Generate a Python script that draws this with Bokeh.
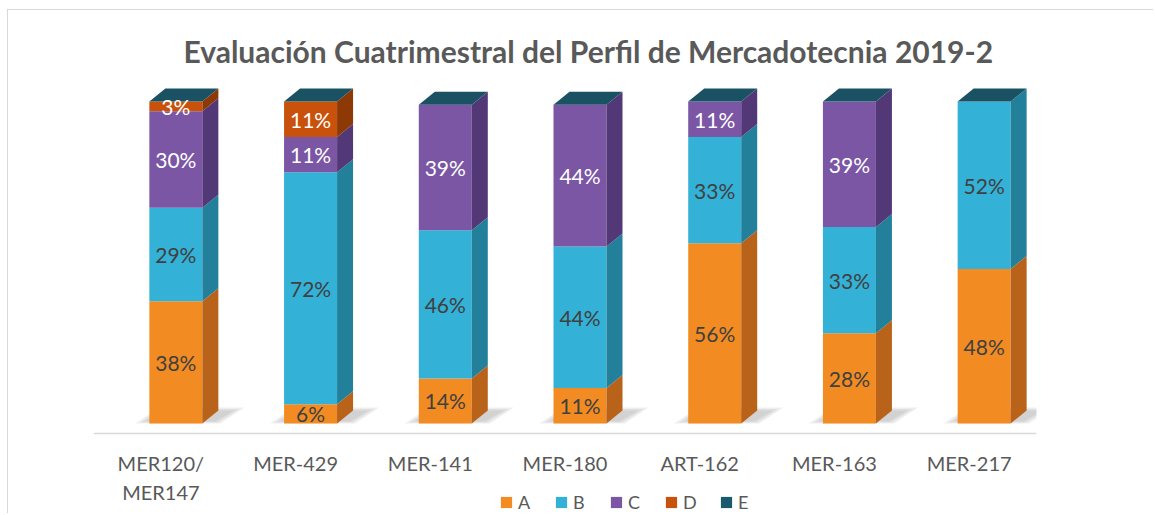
import numpy as np
from bokeh.plotting import figure
from bokeh.models import Range1d, Legend, LegendItem, ColumnDataSource, Span
from bokeh.core.properties import value
from bokeh.embed import file_html
from bokeh.resources import INLINE

# ---------------- data ----------------
categories = ["MER120/MER147", "MER-429", "MER-141", "MER-180", "ART-162", "MER-163", "MER-217"]
tick_labels = ["MER120/\nMER147", "MER-429", "MER-141", "MER-180", "ART-162", "MER-163", "MER-217"]
series_names = ["A", "B", "C", "D", "E"]
A = [38, 6, 14, 11, 56, 28, 48]
B = [29, 72, 46, 44, 33, 33, 52]
C = [30, 11, 39, 44, 11, 39, 0]
D = [3, 11, 0, 0, 0, 0, 0]
E = [0, 0, 0, 0, 0, 0, 0]
series_values = [A, B, C, D, E]

front_colors = ["#F28C22", "#33B1D6", "#7A56A4", "#C8520B", "#1A5A6E"]
side_colors = ["#B9631A", "#22809B", "#533877", "#8C3906", "#123F4E"]
label_colors = ["#404040", "#404040", "#FFFFFF", "#FFFFFF", "#FFFFFF"]
top_color = "#1A5263"
FONT = "Lato"

# ---------------- geometry (pixels -> data units) ----------------
XU = 943 / 7.0      # px per category slot
YU = 3.22           # px per percent
dx = 15.0 / XU      # 3D perspective shift of front face
w = 53.0 / XU       # front face width
ox = 16.0 / XU      # depth x
oy = 13.0 / YU      # depth y
floor_y = -10 / YU  # category axis line (below the bars' base)
label_top = -27 / YU

n = len(categories)
slot = np.arange(n) + 0.5
x0 = slot + dx - w / 2
x1 = slot + dx + w / 2

p = figure(width=1146, height=504, output_backend="svg", toolbar_location=None,
           x_range=Range1d(0, n), y_range=Range1d(-91 / YU, 343 / YU),
           min_border_left=85, min_border_right=118, min_border_top=70, min_border_bottom=0,
           background_fill_color="white", border_fill_color="white",
           styles={"margin-left": "7px", "margin-top": "9px",
                   "border-top": "1px solid #d9d9d9", "border-left": "1px solid #d9d9d9"})
p.outline_line_color = None
p.grid.visible = False
p.axis.visible = False

p.title.text = "Evaluación Cuatrimestral del Perfil de Mercadotecnia 2019-2"
p.title.align = "left"
p.title.offset = 90
p.title.text_font = FONT
p.title.text_font_style = "bold"
p.title.text_font_size = "30px"
p.title.text_color = "#595959"
p.title.standoff = 23

# category axis line
p.add_layout(Span(location=floor_y, dimension="width", line_color="#d9d9d9", line_width=1.5))

# ---------------- shadows ----------------
sh_xs, sh_ys = [], []
for k, inset in enumerate([0, 5, 10]):
    for i in range(n):
        L = x0[i] * XU
        R = (x1[i] + ox) * XU
        pts_x = [L - 14 + inset, R + 2 - inset / 2, R + 26 - inset, L + 10]
        pts_y = [0 + inset * 0.2, 0 + inset * 0.2, 16 - inset * 0.3, 16 - inset * 0.3]
        sh_xs.append([v / XU for v in pts_x])
        sh_ys.append([v / YU for v in pts_y])
p.patches(sh_xs, sh_ys, fill_color="#7f7f7f", fill_alpha=0.13, line_color=None)

# ---------------- bars ----------------
cum = np.zeros(n)
legend_items = []
label_x, label_y, label_t, label_c = [], [], [], []
for s, vals, fc, sc, lc in zip(series_names, series_values, front_colors, side_colors, label_colors):
    vals = np.array(vals, dtype=float)
    bottom = cum.copy()
    top = cum + vals
    src = ColumnDataSource(dict(left=x0, right=x1, bottom=bottom, top=top))
    r = p.quad(left="left", right="right", bottom="bottom", top="top", source=src,
               fill_color=fc, line_color=None)
    legend_items.append(LegendItem(label=s, renderers=[r]))
    xs, ys = [], []
    for i in range(n):
        if vals[i] > 0:
            xs.append([x1[i], x1[i] + ox, x1[i] + ox, x1[i]])
            ys.append([bottom[i], bottom[i] + oy, top[i] + oy, top[i]])
            label_x.append(slot[i] + dx)
            label_y.append((bottom[i] + top[i]) / 2)
            label_t.append(f"{int(vals[i])}%")
            label_c.append(lc)
    if xs:
        p.patches(xs, ys, fill_color=sc, line_color=None)
    cum = top

# top caps
cx, cy = [], []
for i in range(n):
    T = cum[i]
    cx.append([x0[i], x0[i] + ox, x1[i] + ox, x1[i]])
    cy.append([T, T + oy, T + oy, T])
p.patches(cx, cy, fill_color=top_color, line_color=None)

p.text(x=label_x, y=label_y, text=label_t, text_color=label_c,
       text_align="center", text_baseline="middle",
       text_font=value(FONT), text_font_size="21px")

# category labels
p.text(x=slot, y=[label_top] * n, text=tick_labels, text_color="#595959",
       text_align="center", text_baseline="top", text_line_height=1.22,
       text_font=value(FONT), text_font_size="20px")

legend = Legend(items=legend_items, orientation="horizontal", location=(406, 1),
                padding=0, margin=0, border_line_color=None, background_fill_alpha=0,
                glyph_width=14, glyph_height=14, label_standoff=5, label_width=20, spacing=16,
                label_text_font=FONT, label_text_font_size="18px", label_text_color="#595959")
p.add_layout(legend, "center")

open("out.html", "w").write(file_html(p, INLINE))
